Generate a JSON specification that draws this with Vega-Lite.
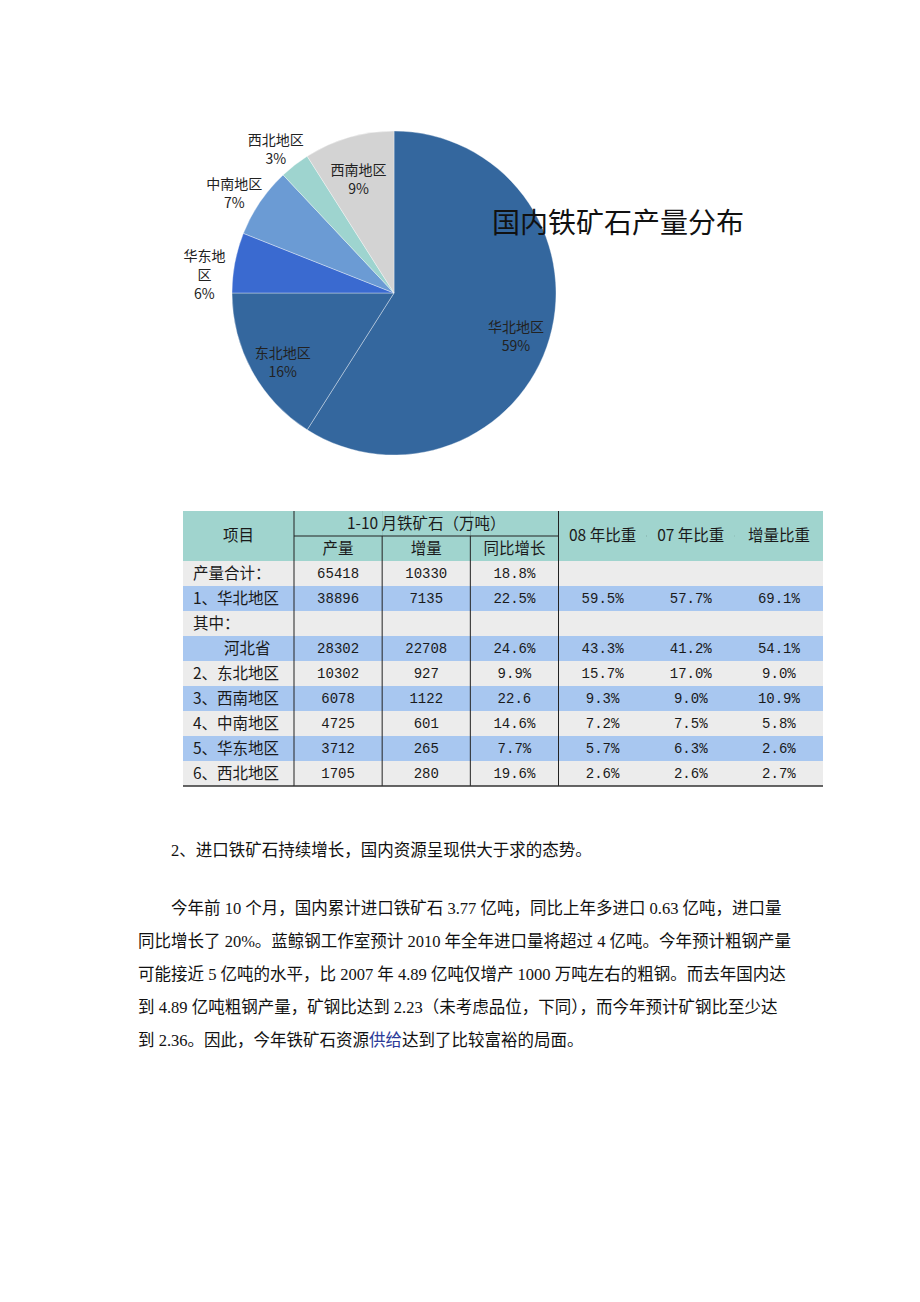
{
  "$schema": "https://vega.github.io/schema/vega-lite/v6.json",
  "background": "#ffffff",
  "padding": {"left": 138, "top": 100, "right": 0, "bottom": 0},
  "config": {"view": {"stroke": null}, "font": "Noto Sans CJK SC"},
  "spacing": 27,
  "resolve": {"scale": {"color": "independent", "fill": "independent"}},
  "datasets": {
    "pie": [
      {"region": "华北地区", "pct": 59, "idx": 1, "label": "华北地区\n59%"},
      {"region": "东北地区", "pct": 16, "idx": 2, "label": "东北地区\n16%"},
      {"region": "华东地区", "pct": 6, "idx": 3, "label": "华东地\n区\n6%"},
      {"region": "中南地区", "pct": 7, "idx": 4, "label": "中南地区\n7%"},
      {"region": "西北地区", "pct": 3, "idx": 5, "label": "西北地区\n3%"},
      {"region": "西南地区", "pct": 9, "idx": 6, "label": "西南地区\n9%"}
    ],
    "rows": [
      {"row": "h1", "shade": "hd"}, {"row": "h2", "shade": "hd"},
      {"row": "r1", "shade": "g"}, {"row": "r2", "shade": "b"},
      {"row": "r3", "shade": "g"}, {"row": "r4", "shade": "b"},
      {"row": "r5", "shade": "g"}, {"row": "r6", "shade": "b"},
      {"row": "r7", "shade": "g"}, {"row": "r8", "shade": "b"},
      {"row": "r9", "shade": "g"}
    ],
    "col1": [
      {"row": "r1", "text": "产量合计："},
      {"row": "r2", "text": "1、华北地区"},
      {"row": "r3", "text": "其中："},
      {"row": "r4", "text": "\u200b\u3000\u3000河北省"},
      {"row": "r5", "text": "2、东北地区"},
      {"row": "r6", "text": "3、西南地区"},
      {"row": "r7", "text": "4、中南地区"},
      {"row": "r8", "text": "5、华东地区"},
      {"row": "r9", "text": "6、西北地区"}
    ],
    "cells": [
      {"row": "r1", "col": "c1", "text": "65418"}, {"row": "r1", "col": "c2", "text": "10330"}, {"row": "r1", "col": "c3", "text": "18.8%"},
      {"row": "r2", "col": "c1", "text": "38896"}, {"row": "r2", "col": "c2", "text": "7135"}, {"row": "r2", "col": "c3", "text": "22.5%"},
      {"row": "r2", "col": "c4", "text": "59.5%"}, {"row": "r2", "col": "c5", "text": "57.7%"}, {"row": "r2", "col": "c6", "text": "69.1%"},
      {"row": "r4", "col": "c1", "text": "28302"}, {"row": "r4", "col": "c2", "text": "22708"}, {"row": "r4", "col": "c3", "text": "24.6%"},
      {"row": "r4", "col": "c4", "text": "43.3%"}, {"row": "r4", "col": "c5", "text": "41.2%"}, {"row": "r4", "col": "c6", "text": "54.1%"},
      {"row": "r5", "col": "c1", "text": "10302"}, {"row": "r5", "col": "c2", "text": "927"}, {"row": "r5", "col": "c3", "text": "9.9%"},
      {"row": "r5", "col": "c4", "text": "15.7%"}, {"row": "r5", "col": "c5", "text": "17.0%"}, {"row": "r5", "col": "c6", "text": "9.0%"},
      {"row": "r6", "col": "c1", "text": "6078"}, {"row": "r6", "col": "c2", "text": "1122"}, {"row": "r6", "col": "c3", "text": "22.6"},
      {"row": "r6", "col": "c4", "text": "9.3%"}, {"row": "r6", "col": "c5", "text": "9.0%"}, {"row": "r6", "col": "c6", "text": "10.9%"},
      {"row": "r7", "col": "c1", "text": "4725"}, {"row": "r7", "col": "c2", "text": "601"}, {"row": "r7", "col": "c3", "text": "14.6%"},
      {"row": "r7", "col": "c4", "text": "7.2%"}, {"row": "r7", "col": "c5", "text": "7.5%"}, {"row": "r7", "col": "c6", "text": "5.8%"},
      {"row": "r8", "col": "c1", "text": "3712"}, {"row": "r8", "col": "c2", "text": "265"}, {"row": "r8", "col": "c3", "text": "7.7%"},
      {"row": "r8", "col": "c4", "text": "5.7%"}, {"row": "r8", "col": "c5", "text": "6.3%"}, {"row": "r8", "col": "c6", "text": "2.6%"},
      {"row": "r9", "col": "c1", "text": "1705"}, {"row": "r9", "col": "c2", "text": "280"}, {"row": "r9", "col": "c3", "text": "19.6%"},
      {"row": "r9", "col": "c4", "text": "2.6%"}, {"row": "r9", "col": "c5", "text": "2.6%"}, {"row": "r9", "col": "c6", "text": "2.7%"}
    ],
    "lines": [
      {"line": "p1", "text": "\u200b\u3000\u3000今年前 10 个月，国内累计进口铁矿石 3.77 亿吨，同比上年多进口 0.63 亿吨，进口量"},
      {"line": "p2", "text": "同比增长了 20%。蓝鲸钢工作室预计 2010 年全年进口量将超过 4 亿吨。今年预计粗钢产量"},
      {"line": "p3", "text": "可能接近 5 亿吨的水平，比 2007 年 4.89 亿吨仅增产 1000 万吨左右的粗钢。而去年国内达"},
      {"line": "p4", "text": "到 4.89 亿吨粗钢产量，矿钢比达到 2.23（未考虑品位，下同），而今年预计矿钢比至少达"},
      {"line": "p5", "text": "到 2.36。因此，今年铁矿石资源供给达到了比较富裕的局面。"}
    ]
  },
  "vconcat": [
    {
      "width": 512,
      "height": 380,
      "layer": [
        {
          "data": {"name": "pie"},
          "mark": {"type": "arc", "outerRadius": 162, "stroke": "#ffffff", "strokeWidth": 0.6, "strokeOpacity": 0.6},
          "encoding": {
            "theta": {"field": "pct", "type": "quantitative", "stack": true},
            "order": {"field": "idx", "type": "quantitative"},
            "color": {"field": "region", "type": "nominal", "legend": null,
              "scale": {"domain": ["华北地区", "东北地区", "华东地区", "中南地区", "西北地区", "西南地区"],
                        "range": ["#34679E", "#34679E", "#3A6AD0", "#6B9BD4", "#9ED4CF", "#D3D3D3"]}}
          }
        },
        {
          "data": {"name": "pie"},
          "mark": {"type": "text", "radius": 127, "lineBreak": "\n", "fontSize": 14, "lineHeight": 19, "fill": "#222222"},
          "encoding": {
            "theta": {"field": "pct", "type": "quantitative", "stack": true},
            "order": {"field": "idx", "type": "quantitative"},
            "detail": {"field": "region", "type": "nominal"},
            "text": {"condition": {"test": "indexof(['华北地区','东北地区','西南地区'], datum.region) >= 0", "field": "label"}, "value": ""}
          }
        },
        {
          "data": {"name": "pie"},
          "mark": {"type": "text", "radius": 193, "lineBreak": "\n", "fontSize": 14, "lineHeight": 19, "fill": "#222222"},
          "encoding": {
            "theta": {"field": "pct", "type": "quantitative", "stack": true},
            "order": {"field": "idx", "type": "quantitative"},
            "detail": {"field": "region", "type": "nominal"},
            "text": {"condition": {"test": "indexof(['华北地区','东北地区','西南地区'], datum.region) < 0", "field": "label"}, "value": ""}
          }
        },
        {
          "data": {"values": [{"t": "国内铁矿石产量分布"}]},
          "mark": {"type": "text", "fontSize": 28, "dx": 224, "dy": -68, "fill": "#111111"},
          "encoding": {"text": {"field": "t"}}
        }
      ]
    },
    {
      "spacing": 0,
      "bounds": "flush",
      "hconcat": [
        {
          "width": 45,
          "height": 275,
          "data": {"values": [{"t": ""}]},
          "mark": "text",
          "encoding": {"text": {"field": "t"}}
        },
        {
          "width": 111,
          "height": 275,
          "layer": [
            {
              "data": {"name": "rows"},
              "mark": "rect",
              "encoding": {
                "y": {"field": "row", "type": "nominal", "axis": null, "scale": {"type": "band", "domain": ["h1","h2","r1","r2","r3","r4","r5","r6","r7","r8","r9"], "paddingInner": 0, "paddingOuter": 0}},
                "fill": {"field": "shade", "type": "nominal", "legend": null, "scale": {"domain": ["hd","g","b"], "range": ["#A0D4CE","#ECECEC","#A8C7F0"]}}
              }
            },
            {
              "data": {"values": [{"row": "r9"}]},
              "mark": {"type": "rule", "color": "#333333", "strokeWidth": 1.4},
              "encoding": {"y": {"field": "row", "type": "nominal", "bandPosition": 1, "axis": null}}
            },
            {
              "data": {"name": "col1"},
              "mark": {"type": "text", "align": "left", "fontSize": 15.5, "fill": "#1a1a1a"},
              "encoding": {
                "x": {"datum": "c0", "type": "nominal", "axis": null, "bandPosition": 0.09, "scale": {"type": "band", "paddingInner": 0, "paddingOuter": 0}},
                "y": {"field": "row", "type": "nominal", "axis": null},
                "text": {"field": "text"}
              }
            },
            {
              "data": {"values": [{"row": "h2", "text": "项目"}]},
              "mark": {"type": "text", "fontSize": 15.5, "fill": "#1a1a1a"},
              "encoding": {
                "y": {"field": "row", "type": "nominal", "bandPosition": 0, "axis": null},
                "text": {"field": "text"}
              }
            }
          ]
        },
        {
          "width": 529,
          "height": 275,
          "layer": [
            {
              "data": {"name": "rows"},
              "mark": "rect",
              "encoding": {
                "y": {"field": "row", "type": "nominal", "axis": null, "scale": {"type": "band", "domain": ["h1","h2","r1","r2","r3","r4","r5","r6","r7","r8","r9"], "paddingInner": 0, "paddingOuter": 0}},
                "fill": {"field": "shade", "type": "nominal", "legend": null, "scale": {"domain": ["hd","g","b"], "range": ["#A0D4CE","#ECECEC","#A8C7F0"]}}
              }
            },
            {
              "data": {"values": [{"col": "c2"}, {"col": "c3"}]},
              "mark": {"type": "rule", "color": "#222222", "strokeWidth": 1},
              "encoding": {
                "x": {"field": "col", "type": "nominal", "bandPosition": 0, "axis": null, "scale": {"type": "band", "domain": ["c1","c2","c3","c4","c5","c6"], "paddingInner": 0, "paddingOuter": 0}}
              }
            },
            {
              "data": {"values": [{"row": "h1", "col": "c1"}, {"row": "h1", "col": "c2"}, {"row": "h1", "col": "c3"}]},
              "mark": {"type": "rect", "fill": "#A0D4CE"},
              "encoding": {
                "x": {"field": "col", "type": "nominal", "axis": null},
                "y": {"field": "row", "type": "nominal", "axis": null}
              }
            },
            {
              "data": {"values": [{"row": "h2"}]},
              "mark": {"type": "rule", "color": "#222222", "strokeWidth": 1},
              "encoding": {"y": {"field": "row", "type": "nominal", "bandPosition": 0, "axis": null}}
            },
            {
              "data": {"values": [{"row": "h1", "col": "c4"}, {"row": "h1", "col": "c5"}, {"row": "h1", "col": "c6"}, {"row": "h2", "col": "c4"}, {"row": "h2", "col": "c5"}, {"row": "h2", "col": "c6"}]},
              "mark": {"type": "rect", "fill": "#A0D4CE"},
              "encoding": {
                "x": {"field": "col", "type": "nominal", "axis": null},
                "y": {"field": "row", "type": "nominal", "axis": null}
              }
            },
            {
              "data": {"values": [{"col": "c1"}, {"col": "c4"}]},
              "mark": {"type": "rule", "color": "#222222", "strokeWidth": 1},
              "encoding": {"x": {"field": "col", "type": "nominal", "bandPosition": 0, "axis": null}}
            },
            {
              "data": {"values": [{"row": "r9"}]},
              "mark": {"type": "rule", "color": "#333333", "strokeWidth": 1.4},
              "encoding": {"y": {"field": "row", "type": "nominal", "bandPosition": 1, "axis": null}}
            },
            {
              "data": {"name": "cells"},
              "mark": {"type": "text", "font": "Liberation Mono", "fontSize": 14, "fill": "#1a1a1a"},
              "encoding": {
                "x": {"field": "col", "type": "nominal", "axis": null},
                "y": {"field": "row", "type": "nominal", "axis": null},
                "text": {"field": "text"}
              }
            },
            {
              "data": {"values": [{"row": "h2", "col": "c1", "text": "产量"}, {"row": "h2", "col": "c2", "text": "增量"}, {"row": "h2", "col": "c3", "text": "同比增长"}, {"row": "h1", "col": "c2", "text": "1-10 月铁矿石（万吨）"}]},
              "mark": {"type": "text", "fontSize": 15.5, "fill": "#1a1a1a"},
              "encoding": {
                "x": {"field": "col", "type": "nominal", "axis": null},
                "y": {"field": "row", "type": "nominal", "axis": null},
                "text": {"field": "text"}
              }
            },
            {
              "data": {"values": [{"row": "h2", "col": "c4", "text": "08 年比重"}, {"row": "h2", "col": "c5", "text": "07 年比重"}, {"row": "h2", "col": "c6", "text": "增量比重"}]},
              "mark": {"type": "text", "fontSize": 15.5, "fill": "#1a1a1a"},
              "encoding": {
                "x": {"field": "col", "type": "nominal", "axis": null},
                "y": {"field": "row", "type": "nominal", "bandPosition": 0, "axis": null},
                "text": {"field": "text"}
              }
            }
          ]
        }
      ]
    },
    {
      "spacing": 4.5,
      "bounds": "flush",
      "vconcat": [
        {
          "width": 700,
          "height": 74,
          "data": {"values": [{"text": "\u200b\u3000\u30002、进口铁矿石持续增长，国内资源呈现供大于求的态势。"}]},
          "mark": {"type": "text", "align": "left", "fontSize": 16.5, "font": "Liberation Serif, Noto Sans CJK SC", "fill": "#111111"},
          "encoding": {
            "x": {"datum": "p", "type": "nominal", "axis": null, "bandPosition": 0, "scale": {"type": "band", "paddingInner": 0, "paddingOuter": 0}},
            "text": {"field": "text"}
          }
        },
        {
          "width": 700,
          "height": 165,
          "encoding": {
            "x": {"datum": "p", "type": "nominal", "axis": null, "bandPosition": 0, "scale": {"type": "band", "paddingInner": 0, "paddingOuter": 0}},
            "y": {"field": "line", "type": "nominal", "axis": null, "scale": {"type": "band", "domain": ["p1","p2","p3","p4","p5"], "paddingInner": 0, "paddingOuter": 0}},
            "text": {"field": "text"}
          },
          "layer": [
            {
              "data": {"name": "lines"},
              "mark": {"type": "text", "align": "left", "fontSize": 16.5, "font": "Liberation Serif, Noto Sans CJK SC", "fill": "#111111"}
            },
            {
              "data": {"values": [{"line": "p5", "text": "到 2.36。因此，今年铁矿石资源供给"}]},
              "mark": {"type": "text", "align": "left", "fontSize": 16.5, "font": "Liberation Serif, Noto Sans CJK SC", "fill": "#ffffff", "stroke": "#ffffff", "strokeWidth": 1.6}
            },
            {
              "data": {"values": [{"line": "p5", "text": "到 2.36。因此，今年铁矿石资源供给"}]},
              "mark": {"type": "text", "align": "left", "fontSize": 16.5, "font": "Liberation Serif, Noto Sans CJK SC", "fill": "#2B3A98"}
            },
            {
              "data": {"values": [{"line": "p5", "text": "到 2.36。因此，今年铁矿石资源"}]},
              "mark": {"type": "text", "align": "left", "fontSize": 16.5, "font": "Liberation Serif, Noto Sans CJK SC", "fill": "#ffffff", "stroke": "#ffffff", "strokeWidth": 1.6}
            },
            {
              "data": {"values": [{"line": "p5", "text": "到 2.36。因此，今年铁矿石资源"}]},
              "mark": {"type": "text", "align": "left", "fontSize": 16.5, "font": "Liberation Serif, Noto Sans CJK SC", "fill": "#111111"}
            }
          ]
        }
      ]
    }
  ]
}
